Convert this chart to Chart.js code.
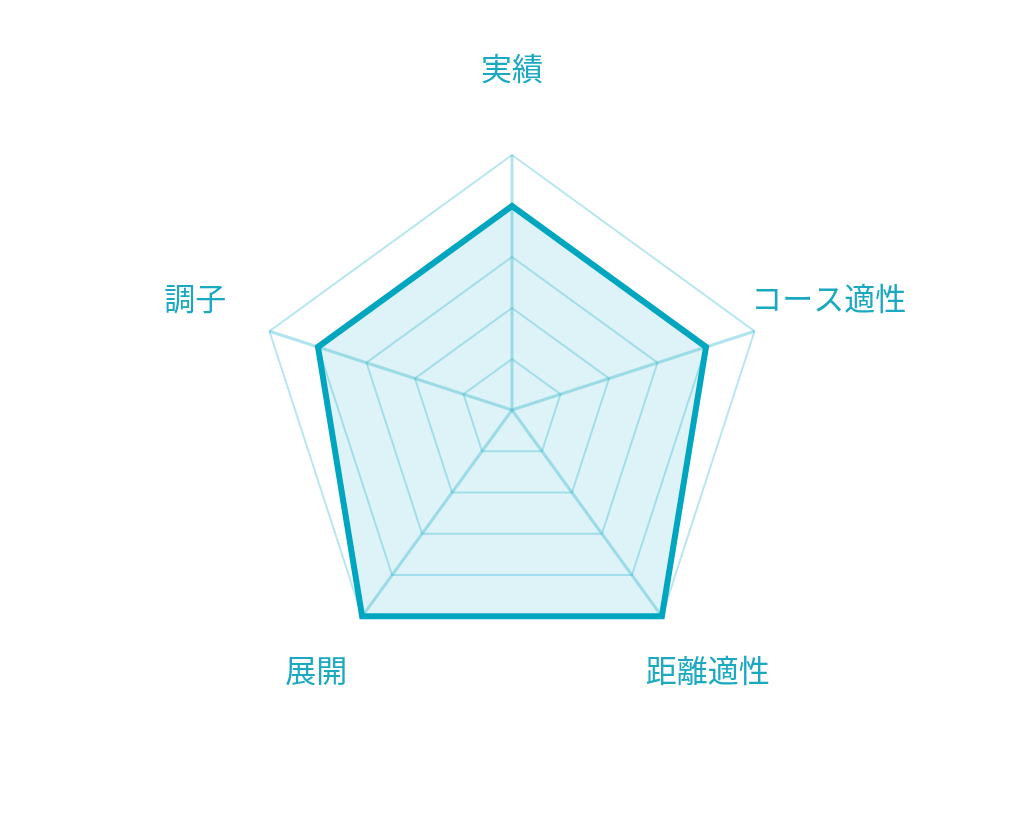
<!DOCTYPE html>
<html lang="ja">
<head>
<meta charset="utf-8">
<script src="https://cdn.jsdelivr.net/npm/chart.js@4"></script>
<style>
  html, body { margin: 0; padding: 0; background: #fff; }
  #wrap { width: 1024px; height: 820px; }
</style>
</head>
<body>
<div id="wrap"><canvas id="radarChart" width="1024" height="820"></canvas></div>
<script>
const labels = ['実績', 'コース適性', '距離適性', '展開', '調子'];
const scores = [4, 4, 5, 5, 4];
const scaleMax = 5;

const teal = '#00a6bf';
const labelColor = '#1ba9c1';

// ラベルは各頂点の外側、中央揃えで描く
const pointLabelPlugin = {
  id: 'pointLabelPlugin',
  afterDraw(chart) {
    const scale = chart.scales.r;
    const ctx = chart.ctx;
    const dist = scale.getDistanceFromCenterForValue(scale.max) + 78;
    ctx.save();
    ctx.font = '31px "Noto Sans CJK JP", "Noto Sans", sans-serif';
    ctx.fillStyle = labelColor;
    ctx.textAlign = 'center';
    ctx.textBaseline = 'middle';
    chart.data.labels.forEach((text, i) => {
      const p = scale.getPointPosition(i, dist);
      ctx.fillText(text, p.x, p.y - 9);
    });
    ctx.restore();
  }
};

const ctx = document.getElementById('radarChart').getContext('2d');
const radarChart = new Chart(ctx, {
  type: 'radar',
  data: {
    labels: labels,
    datasets: [{
      data: scores,
      borderColor: teal,
      borderWidth: 6,
      backgroundColor: 'rgba(0, 166, 191, 0.13)',
      pointRadius: 0,
      pointHoverRadius: 0,
      borderJoinStyle: 'miter'
    }]
  },
  options: {
    responsive: false,
    animation: false,
    layout: { padding: { top: 155, bottom: 155, left: 0, right: 0 } },
    plugins: {
      legend: { display: false },
      tooltip: { enabled: false }
    },
    scales: {
      r: {
        min: 0,
        max: scaleMax,
        ticks: { stepSize: 1, display: false },
        pointLabels: { display: false },
        grid: { color: 'rgba(0, 166, 196, 0.28)', lineWidth: 2 },
        angleLines: { color: 'rgba(0, 166, 196, 0.3)', lineWidth: 3 }
      }
    }
  },
  plugins: [pointLabelPlugin]
});
</script>
</body>
</html>
